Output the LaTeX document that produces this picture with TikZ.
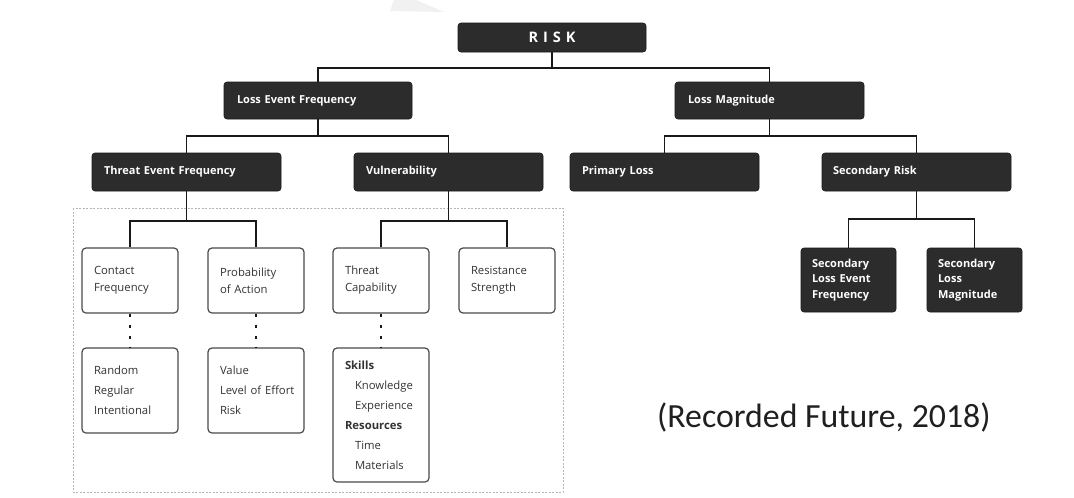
\documentclass[tikz,border=0pt]{standalone}
\usepackage{fontspec}
\setmainfont{Open Sans}
\newfontfamily\capfont{Carlito}
\usetikzlibrary{calc}
\definecolor{boxdark}{HTML}{2C2C2C}
\definecolor{boxline}{HTML}{4A4A4A}
\definecolor{boxtext}{HTML}{333333}
\definecolor{framegray}{HTML}{B4B4B4}
\definecolor{wmark}{HTML}{F1F1F1}
\tikzset{
  darkbox/.style={rectangle, rounded corners=3pt, fill=boxdark, draw=black!90, line width=0.6pt,
    text=white, font=\fontsize{11}{15.5}\selectfont\bfseries, align=left,
    inner xsep=12pt, inner ysep=0pt},
  lightbox/.style={rectangle, rounded corners=4pt, fill=white, draw=boxline, line width=1.2pt,
    text=boxtext, font=\fontsize{11.3}{17}\selectfont, align=left,
    inner xsep=12pt, inner ysep=0pt, minimum width=96pt, text width=72pt},
  listbox/.style={lightbox, font=\fontsize{11.3}{20}\selectfont},
  conn/.style={draw=black!90, line width=1.7pt},
  dotconn/.style={draw=black!90, line width=2.2pt, dash pattern=on 3pt off 8pt},
  frame/.style={draw=framegray, line width=0.7pt, dash pattern=on 2pt off 1.5pt},
}
\begin{document}
\begin{tikzpicture}[x=1pt,y=-1pt]
\useasboundingbox (0,0) rectangle (1074,498);
\fill[white] (0,0) rectangle (1074,498);
% faint watermark wedge
\fill[wmark] (390,11) -- (444,12) -- (416,0) -- (394,0) -- cycle;
% dashed frame
\draw[frame] (73,208) rectangle (563,492);

% dark boxes
\node[darkbox, minimum width=188pt, minimum height=29pt, text width=164pt, align=center,
      font=\fontsize{14.5}{16}\selectfont\bfseries] (risk) at (552,37.5)
      {R\hspace{5pt}I\hspace{5pt}S\hspace{5pt}K};
\node[darkbox, minimum width=188pt, minimum height=37pt, text width=162pt, inner xsep=13pt] (lef) at (318,100.5) {Loss Event Frequency};
\node[darkbox, minimum width=189pt, minimum height=37pt, text width=163pt, inner xsep=13pt] (lm) at (769.5,100.5) {Loss Magnitude};
\node[darkbox, minimum width=189pt, minimum height=38pt, text width=165pt] (tef) at (186.5,172) {Threat Event Frequency};
\node[darkbox, minimum width=189pt, minimum height=38pt, text width=165pt] (vul) at (448.5,172) {Vulnerability};
\node[darkbox, minimum width=189pt, minimum height=38pt, text width=165pt, inner xsep=12pt] (pl) at (664.5,172) {Primary Loss};
\node[darkbox, minimum width=189pt, minimum height=38pt, text width=167pt, inner xsep=11pt] (sr) at (916.5,172) {Secondary Risk};
\node[darkbox, minimum width=95pt, minimum height=64pt, text width=73pt, inner xsep=11pt] (slef) at (848.5,280) {Secondary\\\mbox{Loss Event}\\Frequency};
\node[darkbox, minimum width=95pt, minimum height=64pt, text width=73pt, inner xsep=11pt] (slm) at (974.5,280) {Secondary\\Loss\\Magnitude};

% light boxes
\node[lightbox, minimum height=65pt] (cf) at (130,280.5) {Contact\\Frequency};
\node[lightbox, minimum height=65pt] (pa) at (256,280.5) {Probability\\\mbox{of Action}};
\node[lightbox, minimum height=65pt] (tc) at (381,280.5) {Threat\\Capability};
\node[lightbox, minimum height=65pt] (rs) at (507,280.5) {Resistance\\Strength};
\node[listbox, minimum height=85pt] (rnd) at (130,390.5) {Random\\Regular\\Intentional};
\node[listbox, minimum height=85pt] (val) at (256,390.5) {Value\\\mbox{Level of Effort}\\Risk};
\node[listbox, minimum height=134pt] (sk) at (381,415)
  {\textbf{Skills}\\\hspace*{10pt}Knowledge\\\hspace*{10pt}Experience\\\textbf{Resources}\\\hspace*{10pt}Time\\\hspace*{10pt}Materials};

% connectors
\coordinate (j0) at ($(risk.south)+(0,16)$);
\coordinate (j1) at ($(lef.south)+(0,16.5)$);
\coordinate (j2) at ($(lm.south)+(0,16.5)$);
\coordinate (j3) at ($(tef.south)+(0,30)$);
\coordinate (j4) at ($(vul.south)+(0,30)$);
\coordinate (j5) at ($(sr.south)+(0,28)$);

\draw[conn] (risk.south) -- (j0);
\draw[conn] (lef.north) |- (j0) -| (lm.north);
\draw[conn] (lef.south) -- (j1);
\draw[conn] (tef.north) |- (j1) -| (vul.north);
\draw[conn] (lm.south) -- (j2);
\draw[conn] (pl.north) |- (j2) -| (sr.north);
\draw[conn] (tef.south) -- (j3);
\draw[conn] (cf.north) |- (j3) -| (pa.north);
\draw[conn] (vul.south) -- (j4);
\draw[conn] (tc.north) |- (j4) -| (rs.north);
\draw[conn] (sr.south) -- (j5);
\draw[conn] (slef.north) |- (j5) -| (slm.north);

\draw[dotconn] (cf.south) -- (rnd.north);
\draw[dotconn] (pa.south) -- (val.north);
\draw[dotconn] (tc.south) -- (sk.north);

% caption
\node[anchor=base west, inner sep=0pt, text=black!88, font=\capfont\fontsize{33.8}{38}\selectfont] (cap) at (657,427) {(Recorded Future, 2018)};
\end{tikzpicture}
\end{document}
